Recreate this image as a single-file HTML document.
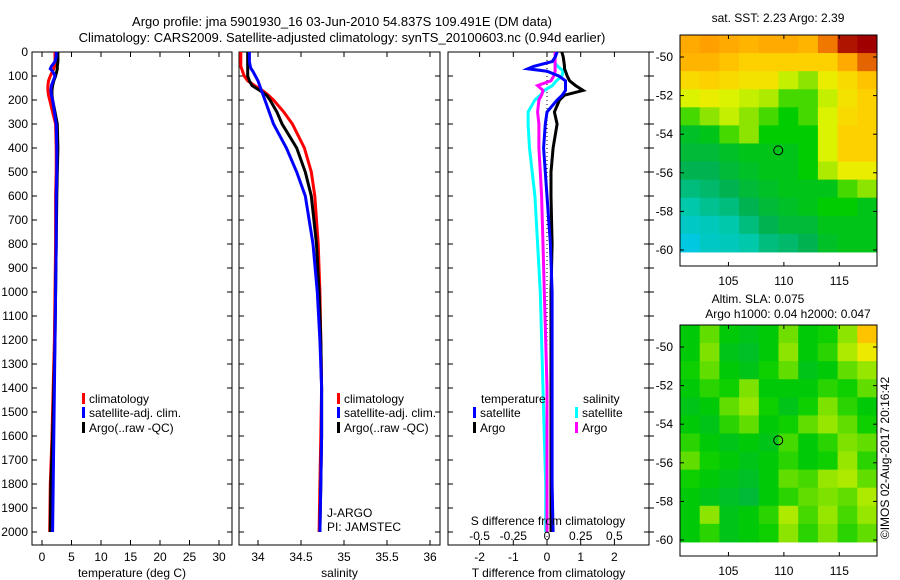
<!DOCTYPE html>
<html><head><meta charset="utf-8">
<style>
body{margin:0;background:#fff;}
svg{display:block;font-family:"Liberation Sans",sans-serif;}
text{fill:#000;}
</style></head>
<body>
<svg id="c" width="900" height="580" viewBox="0 0 900 580"></svg>
<script>
const depths=[0,20,40,60,70,80,100,120,140,160,180,200,250,300,400,500,600,800,1000,1200,1400,1600,1800,2000];
const tClim=[2.2,2.2,2.2,2.1,2.0,1.8,1.4,1.1,1.0,1.0,1.1,1.3,1.8,2.3,2.4,2.4,2.3,2.3,2.2,2.1,1.9,1.7,1.4,1.3];
const tSat=[2.4,2.4,2.2,1.6,1.4,1.8,2.2,1.9,1.6,1.5,1.6,1.8,2.1,2.4,2.5,2.5,2.4,2.4,2.3,2.2,2.1,2.0,1.9,1.8];
const tArgo=[2.7,2.7,2.7,2.6,2.6,2.5,2.3,2.0,1.8,1.7,1.7,1.8,2.2,2.6,2.7,2.6,2.5,2.4,2.3,2.2,2.0,1.8,1.5,1.4];
const sClim=[33.80,33.80,33.80,33.80,33.81,33.82,33.84,33.88,33.96,34.05,34.12,34.18,34.30,34.40,34.54,34.62,34.66,34.70,34.72,34.73,34.74,34.73,34.72,34.71];
const sSat=[33.90,33.90,33.90,33.91,33.92,33.94,33.97,34.00,34.02,34.04,34.06,34.08,34.13,34.18,34.33,34.45,34.55,34.64,34.69,34.72,34.74,34.74,34.73,34.72];
const sArgo=[33.88,33.88,33.88,33.88,33.88,33.88,33.88,33.90,33.93,34.02,34.10,34.14,34.22,34.28,34.45,34.55,34.62,34.68,34.71,34.73,34.74,34.74,34.73,34.72];
const dTSat=[0.3,0.25,0.15,-0.4,-0.57,0.0,0.35,0.55,0.55,0.55,0.45,0.3,0.0,-0.05,-0.1,-0.05,0.0,0.1,0.15,0.15,0.15,0.15,0.15,0.18];
const dTArgo=[0.44,0.48,0.5,0.52,0.52,0.55,0.6,0.67,0.85,1.07,0.52,0.37,0.22,0.3,0.18,0.12,0.12,0.15,0.12,0.12,0.12,0.12,0.12,0.12];
const dSSat=[0.06,0.06,0.05,0.08,0.1,0.12,0.11,0.07,0.04,-0.02,-0.05,-0.09,-0.14,-0.14,-0.13,-0.11,-0.09,-0.07,-0.05,-0.04,-0.03,-0.02,-0.01,-0.01];
const dSArgo=[0.06,0.06,0.06,0.06,0.06,0.06,0.05,0.03,-0.07,-0.03,-0.04,-0.06,-0.07,-0.06,-0.06,-0.05,-0.04,-0.03,-0.02,-0.01,0,0,0,0];
const depthTicks=[0,100,200,300,400,500,600,700,800,900,1000,1100,1200,1300,1400,1500,1600,1700,1800,1900,2000];
const tempTicks=[0,5,10,15,20,25,30];
const salTicks=[34,34.5,35,35.5,36];
const tdTicks=[-2,-1,0,1,2];
const sdTicks=[-0.5,-0.25,0,0.25,0.5];
const sstGrid=[
[.80,.82,.80,.78,.80,.80,.78,.88,.98,1.0],
[.78,.78,.75,.72,.72,.72,.72,.72,.80,.90],
[.70,.72,.70,.68,.68,.60,.55,.65,.70,.75],
[.62,.65,.62,.60,.58,.50,.50,.60,.68,.72],
[.50,.55,.60,.55,.50,.45,.50,.62,.70,.72],
[.40,.42,.50,.55,.45,.45,.45,.62,.72,.72],
[.38,.38,.40,.42,.42,.42,.45,.62,.72,.72],
[.35,.35,.38,.40,.42,.42,.45,.58,.65,.65],
[.30,.32,.35,.38,.40,.42,.42,.42,.50,.55],
[.25,.28,.30,.35,.38,.40,.42,.45,.45,.42],
[.20,.22,.25,.30,.35,.38,.38,.42,.42,.42],
[.15,.20,.22,.25,.30,.32,.35,.40,.42,.42]];
const slaGrid=[
[.44,.52,.44,.42,.44,.53,.44,.46,.55,.75],
[.44,.54,.42,.40,.44,.55,.44,.48,.58,.66],
[.46,.52,.44,.42,.46,.52,.42,.44,.52,.56],
[.44,.48,.46,.54,.44,.44,.44,.48,.46,.52],
[.42,.44,.52,.56,.46,.42,.46,.54,.48,.44],
[.44,.42,.48,.52,.44,.46,.52,.56,.52,.46],
[.48,.44,.42,.44,.42,.50,.44,.48,.54,.52],
[.52,.46,.44,.42,.44,.48,.44,.46,.56,.48],
[.46,.44,.42,.40,.44,.52,.50,.56,.58,.52],
[.44,.42,.40,.38,.44,.48,.52,.54,.52,.58],
[.44,.55,.42,.44,.48,.58,.50,.56,.50,.56],
[.44,.48,.42,.44,.46,.55,.48,.54,.48,.52]];
const sstArgo={lon:109.491,lat:-54.837};

const svg=document.getElementById('c');
const NS='http://www.w3.org/2000/svg';
function mk(tag,attrs,parent){const e=document.createElementNS(NS,tag);for(const k in attrs)e.setAttribute(k,attrs[k]);(parent||svg).appendChild(e);return e;}
function txt(s,x,y,anchor,size,parent){const t=mk('text',{x:x,y:y,'text-anchor':anchor||'start','font-size':size||12},parent);t.textContent=s;return t;}

const yD=d=>52+d*0.24;
const PT=38,PB=545;
function panel(name,x0,x1,fx,xt,xl,xlabel){
  const g=mk('g',{});
  
  
  mk('rect',{x:x0,y:PT+14,width:x1-x0,height:PB-52,fill:'none',stroke:'#000','stroke-width':1},g);
  depthTicks.forEach(d=>{
    mk('line',{x1:x0,x2:x0+5,y1:yD(d),y2:yD(d),stroke:'#000'},g);
    mk('line',{x1:x1,x2:x1-5,y1:yD(d),y2:yD(d),stroke:'#000'},g);
  });
  xt.forEach((v,i)=>{
    const x=fx(v);
    mk('line',{x1:x,x2:x,y1:52,y2:57,stroke:'#000'},g);
    mk('line',{x1:x,x2:x,y1:PB,y2:PB-5,stroke:'#000'},g);
    if(xl){const t=txt(xl[i],x,561,'middle',12,g);}
  });
  const l=txt(xlabel,(x0+x1)/2,577,'middle',12,g);
  
  
  return g;
}
function line(g,xs,fx,color,name){
  const pts=xs.map((v,i)=>fx(v).toFixed(1)+','+yD(depths[i]).toFixed(1)).join(' ');
  const p=mk('polyline',{points:pts,fill:'none',stroke:color,'stroke-width':3,'stroke-linejoin':'miter'},g);
  
  
}
function legend(g,x,y,color,label,name){
  mk('rect',{x:x,y:y-10,width:3,height:11,fill:color},g);
  const t=txt(label,x+7,y,'start',12,g);
  
  
}

depthTicks.forEach(d=>{const t=txt(String(d),28,yD(d)+4,'end',12);});

let t1=txt('Argo profile: jma 5901930_16 03-Jun-2010 54.837S 109.491E (DM data)',342,26,'middle',13);

let t2=txt('Climatology: CARS2009. Satellite-adjusted climatology: synTS_20100603.nc (0.94d earlier)',342,42,'middle',13);


const fxT=v=>42+v*5.9;
const g1=panel('temperature-panel',32,232,fxT,tempTicks,tempTicks.map(String),'temperature (deg C)');
line(g1,tClim,fxT,'#ff0000','temp-climatology-line');
line(g1,tArgo,fxT,'#000000','temp-argo-line');
line(g1,tSat,fxT,'#0000ff','temp-satellite-line');
legend(g1,82,403,'#ff0000','climatology','legend-climatology');
legend(g1,82,417,'#0000ff','satellite-adj. clim.','legend-satellite');
legend(g1,82,432,'#000000','Argo(..raw -QC)','legend-argo');

const fxS=v=>258+(v-34)*86;
const g2=panel('salinity-panel',239,440,fxS,salTicks,['34','34.5','35','35.5','36'],'salinity');
line(g2,sClim,fxS,'#ff0000','sal-climatology-line');
line(g2,sArgo,fxS,'#000000','sal-argo-line');
line(g2,sSat,fxS,'#0000ff','sal-satellite-line');
legend(g2,337,403,'#ff0000','climatology','legend-climatology');
legend(g2,337,417,'#0000ff','satellite-adj. clim.','legend-satellite');
legend(g2,337,432,'#000000','Argo(..raw -QC)','legend-argo');
let ja=txt('J-ARGO',327,517,'start',12,g2);
let pi=txt('PI: JAMSTEC',327,531,'start',12,g2);

const fxD=v=>547+v*33.7;
const fxSD=v=>547+v*134.8;
const g3=panel('difference-panel',448,649,fxD,tdTicks,tdTicks.map(String),'T difference from climatology');
depthTicks.forEach(d=>mk('line',{x1:649,x2:654,y1:yD(d),y2:yD(d),stroke:'#000'},g3));
mk('line',{x1:547,x2:547,y1:52,y2:545,stroke:'#000','stroke-dasharray':'1,3'},g3);
line(g3,dSSat,fxSD,'#00ffff','sdiff-satellite-line');
line(g3,dSArgo,fxSD,'#ff00ff','sdiff-argo-line');
line(g3,dTArgo,fxD,'#000000','tdiff-argo-line');
line(g3,dTSat,fxD,'#0000ff','tdiff-satellite-line');
let lt=txt('temperature',481,403,'start',12,g3);
let ls=txt('salinity',583,403,'start',12,g3);
legend(g3,473,417,'#0000ff','satellite','legend-t-satellite');
legend(g3,473,432,'#000000','Argo','legend-t-argo');
legend(g3,575,417,'#00ffff','satellite','legend-s-satellite');
legend(g3,575,432,'#ff00ff','Argo','legend-s-argo');
let sdt=txt('S difference from climatology',548,525,'middle',12,g3);
sdTicks.forEach(v=>{const t=txt(String(v),fxSD(v),540,'middle',12,g3);});

const stops=[[0,[0,150,255]],[0.12,[0,200,240]],[0.25,[0,200,170]],[0.35,[0,178,80]],[0.45,[0,205,0]],[0.55,[140,228,0]],[0.63,[230,245,0]],[0.73,[255,205,0]],[0.86,[255,140,0]],[1,[160,0,0]]];
function cmap(v){for(let i=1;i<stops.length;i++){if(v<=stops[i][0]){const a=stops[i-1],b=stops[i],f=(v-a[0])/(b[0]-a[0]);return 'rgb('+a[1].map((c,k)=>Math.round(c+(b[1][k]-c)*f)).join(',')+')';}}return 'rgb(160,0,0)';}
function map(name,top,grid,title1,title2){
  const g=mk('g',{});
  
  
  const x0=680,x1=877,lon0=100.63,lon1=118.4;
  const fLon=v=>x0+(v-lon0)*(x1-x0)/(lon1-lon0);
  const fLat=v=>top+22+(-50-v)*19.3;
  const latTop=-50+(22/19.3), latBot=-60.1;
  const rows=grid.length,cols=grid[0].length;
  const dLat=(latTop-latBot)/rows, dLon=(lon1-lon0)/cols;
  grid.forEach((row,r)=>row.forEach((v,c)=>{
    const xa=fLon(lon0+c*dLon),xb=fLon(lon0+(c+1)*dLon);
    const ya=fLat(latTop-r*dLat),yb=fLat(latTop-(r+1)*dLat);
    const cell=mk('rect',{x:xa,y:ya,width:xb-xa+0.5,height:yb-ya+0.5,fill:cmap(v)},g);
    
    
  }));
  mk('rect',{x:x0,y:top,width:x1-x0,height:231,fill:'none',stroke:'#000'},g);
  [-50,-52,-54,-56,-58,-60].forEach(v=>{
    const y=fLat(v);
    mk('line',{x1:x0,x2:x0+4,y1:y,y2:y,stroke:'#000'},g);
    mk('line',{x1:x1,x2:x1-4,y1:y,y2:y,stroke:'#000'},g);
    const t=txt(String(v),673,y+4,'end',12,g);
  });
  [105,110,115].forEach(v=>{
    const x=fLon(v);
    mk('line',{x1:x,x2:x,y1:top,y2:top+4,stroke:'#000'},g);
    mk('line',{x1:x,x2:x,y1:top+231,y2:top+227,stroke:'#000'},g);
    const t=txt(String(v),x,top+250,'middle',12,g);
  });
  const c=mk('circle',{cx:fLon(sstArgo.lon),cy:fLat(sstArgo.lat),r:4.5,fill:'none',stroke:'#000','stroke-width':1},g);
  
  
  if(title2){
    const a=txt(title1,758,top-22,'middle',12,g);
    const b=txt(title2,788,top-7,'middle',12,g);
  } else {
    const a=txt(title1,778,top-13,'middle',12,g);
  }
}
map('sst-map',35,sstGrid,'sat. SST: 2.23 Argo: 2.39');
map('sla-map',325,slaGrid,'Altim. SLA: 0.075','Argo h1000: 0.04 h2000: 0.047');

const cr=txt('©IMOS 02-Aug-2017 20:16:42',0,0,'middle',12);
cr.setAttribute('transform','translate(889,458) rotate(-90)');


</script>
</body></html>
